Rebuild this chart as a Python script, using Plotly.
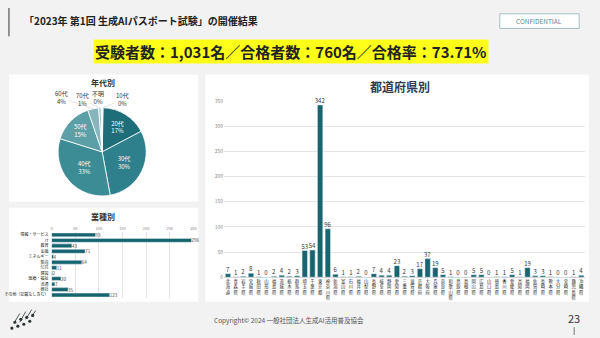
import math
import plotly.graph_objects as go

FONT = "Noto Sans CJK JP"
W, H = 600, 338

# ---------------- data ----------------
age_labels = ["10代", "20代", "30代", "40代", "50代", "60代", "70代", "不明"]
age_values = [0.4, 17, 30, 33, 15, 4, 1, 0.3]
age_colors = ["#cfe4e6", "#1d6e78", "#2e818c", "#3c8c96", "#5c9fa7", "#86b6bb", "#a9cbce", "#c3dcde"]
age_inside = [False, True, True, True, True, False, False, False]

ind_labels = ["情報・サービス", "IT", "教育", "金融", "エネルギー", "製造", "公共", "建設",
              "医療・福祉", "流通", "商社", "その他（記載なし含む）"]
ind_values = [93, 296, 43, 71, 4, 64, 11, 2, 20, 7, 35, 123]
ind_ticks = [0, 50, 100, 150, 200, 250, 300]

prefs = ["北海道", "青森県", "岩手県", "宮城県", "秋田県", "山形県", "福島県", "茨城県", "栃木県", "群馬県",
         "埼玉県", "千葉県", "東京都", "神奈川県", "新潟県", "富山県", "石川県", "福井県", "山梨県", "長野県",
         "岐阜県", "静岡県", "愛知県", "三重県", "滋賀県", "京都府", "大阪府", "兵庫県", "奈良県", "和歌山県",
         "鳥取県", "島根県", "岡山県", "広島県", "山口県", "徳島県", "香川県", "愛媛県", "高知県", "福岡県",
         "佐賀県", "長崎県", "熊本県", "大分県", "宮崎県", "鹿児島県", "沖縄県"]
pref_values = [7, 1, 2, 8, 1, 0, 2, 4, 2, 3,
               53, 54, 342, 96, 6, 1, 1, 2, 0, 7,
               4, 4, 23, 2, 3, 17, 37, 19, 5, 1,
               0, 0, 5, 5, 0, 1, 1, 5, 1, 19,
               3, 3, 1, 0, 0, 1, 4]
pref_ticks = [0, 50, 100, 150, 200, 250, 300, 350]

title_text = "「2023年 第1回 生成AIパスポート試験」の開催結果"
summary_text = "受験者数：1,031名／合格者数：760名／合格率：73.71%"
footer_text = "Copyright© 2024 一般社団法人生成AI活用普及協会"
page_no = "23"

BAR = "#17656f"


def px(x):
    return x / W


def py(y):
    return 1 - y / H


fig = go.Figure()

# ---- pie ----
PIE_CX, PIE_CY, PIE_R = 102, 151, 45
fig.add_trace(go.Pie(
    labels=age_labels, values=age_values, sort=False, direction="clockwise", rotation=0,
    marker=dict(colors=age_colors, line=dict(color="white", width=0.8)),
    texttemplate="%{label}<br>%{percent:.0%}",
    textposition=["inside" if i else "none" for i in age_inside],
    insidetextorientation="horizontal",
    insidetextfont=dict(color="white", size=6, family=FONT),
    domain=dict(x=[px(PIE_CX - PIE_R), px(PIE_CX + PIE_R)], y=[py(PIE_CY + PIE_R), py(PIE_CY - PIE_R)]),
    showlegend=False, hoverinfo="label+percent",
))

# ---- industry bars ----
fig.add_trace(go.Bar(
    x=ind_values, y=ind_labels, orientation="h", marker_color=BAR, width=0.72,
    text=ind_values, textposition="outside", cliponaxis=False, constraintext="none",
    textfont=dict(size=4.5, color="#444444", family=FONT),
    xaxis="x2", yaxis="y2", showlegend=False,
))

# ---- prefecture bars ----
fig.add_trace(go.Bar(
    x=list(range(len(prefs))), y=pref_values, marker_color=BAR, width=0.7,
    text=pref_values, textposition="outside", cliponaxis=False, constraintext="none",
    textfont=dict(size=6, color="#333333", family=FONT),
    xaxis="x3", yaxis="y3", showlegend=False,
))

shapes = [
    dict(type="rect", xref="paper", yref="paper", x0=px(8), x1=px(199), y0=py(202), y1=py(72),
         fillcolor="white", line=dict(width=0), layer="below"),
    dict(type="rect", xref="paper", yref="paper", x0=px(8), x1=px(199), y0=py(304), y1=py(208),
         fillcolor="white", line=dict(width=0), layer="below"),
    dict(type="rect", xref="paper", yref="paper", x0=px(206), x1=px(593), y0=py(304), y1=py(72),
         fillcolor="white", line=dict(width=0), layer="below"),
    dict(type="line", xref="paper", yref="paper", x0=px(8), x1=px(8), y0=py(4), y1=py(33),
         line=dict(color="#555555", width=1.2)),
    dict(type="rect", xref="paper", yref="paper", x0=px(503), x1=px(583), y0=py(25), y1=py(10),
         fillcolor="white", line=dict(color="#8fb1b5", width=0.8)),
    dict(type="line", xref="paper", yref="paper", x0=px(578), x1=px(578), y0=py(338), y1=py(330),
         line=dict(color="#555555", width=0.8)),
]
logo_dots = [(11, 331), (17, 329), (23, 327), (29, 324), (14, 325), (20, 322), (26, 320), (32, 318)]
for (cx, cy) in logo_dots:
    r = 1.6
    shapes.append(dict(type="circle", xref="paper", yref="paper", x0=px(cx - r), x1=px(cx + r),
                       y0=py(cy + r), y1=py(cy - r), fillcolor="#2d3436", line=dict(width=0)))
for (x0, y0, x1, y1) in [(13, 326, 19, 316), (19, 325, 25, 314), (25, 322, 31, 312), (31, 319, 35, 313)]:
    shapes.append(dict(type="line", xref="paper", yref="paper", x0=px(x0), x1=px(x1), y0=py(y0), y1=py(y1),
                       line=dict(color="#2d3436", width=0.8)))

annotations = [
    dict(text=f"<b>{title_text}</b>", x=px(21), y=py(17), xref="paper", yref="paper",
         xanchor="left", yanchor="middle", showarrow=False, font=dict(size=10, color="#222222", family=FONT)),
    dict(text="CONFIDENTIAL", x=px(543), y=py(17.5), xref="paper", yref="paper",
         xanchor="center", yanchor="middle", showarrow=False, font=dict(size=6.5, color="#4f8a92", family=FONT)),
    dict(text=f"<b>{summary_text}</b>", x=px(292), y=py(49), xref="paper", yref="paper",
         xanchor="center", yanchor="middle", showarrow=False, bgcolor="#ffff1a", borderpad=1,
         font=dict(size=15, color="#222222", family=FONT)),
    dict(text="<b>年代別</b>", x=px(103), y=py(80), xref="paper", yref="paper",
         xanchor="center", yanchor="middle", showarrow=False, font=dict(size=8, color="#333333", family=FONT)),
    dict(text="<b>業種別</b>", x=px(103), y=py(217), xref="paper", yref="paper",
         xanchor="center", yanchor="middle", showarrow=False, font=dict(size=8, color="#333333", family=FONT)),
    dict(text="<b>都道府県別</b>", x=px(402), y=py(84), xref="paper", yref="paper",
         xanchor="center", yanchor="middle", showarrow=False, font=dict(size=12, color="#2c3e50", family=FONT)),
    dict(text=footer_text, x=px(290), y=py(323), xref="paper", yref="paper",
         xanchor="center", yanchor="middle", showarrow=False, font=dict(size=6.5, color="#555555", family=FONT)),
    dict(text=page_no, x=px(578), y=py(321), xref="paper", yref="paper",
         xanchor="center", yanchor="middle", showarrow=False, font=dict(size=11, color="#333333", family=FONT)),
]

# outside pie labels with leader lines (computed from the data)
label_pos = {"60代": (61, 96), "70代": (82, 98), "不明": (98, 96), "10代": (122, 98)}
total = sum(age_values)
cum = 0.0
for lab, val, inside in zip(age_labels, age_values, age_inside):
    mid = (cum + val / 2) / total * 2 * math.pi
    cum += val
    if inside:
        continue
    ex = PIE_CX + PIE_R * math.sin(mid)
    ey = PIE_CY - PIE_R * math.cos(mid)
    lx, ly = label_pos[lab]
    annotations.append(dict(
        text=f"{lab}<br>{round(val / total * 100)}%", x=px(ex), y=py(ey), xref="paper", yref="paper",
        ax=lx - ex, ay=ly - ey, showarrow=True, arrowhead=0, arrowwidth=0.5, arrowcolor="#c8c8c8",
        standoff=0, font=dict(size=6, color="#333333", family=FONT), align="center",
    ))

fig.update_layout(
    width=W, height=H, margin=dict(l=0, r=0, t=0, b=0),
    paper_bgcolor="#f2f2f2", plot_bgcolor="rgba(0,0,0,0)",
    font=dict(family=FONT),
    shapes=shapes, annotations=annotations, bargap=0.3,
    xaxis2=dict(domain=[px(51), px(194)], range=[0, 300], side="top", anchor="y2",
                tickvals=ind_ticks, tickfont=dict(size=4, color="#888888"),
                showgrid=True, gridcolor="#e4e4e4", gridwidth=0.6, zeroline=False, showline=False, ticks=""),
    yaxis2=dict(domain=[py(300), py(233)], anchor="x2", autorange="reversed",
                tickfont=dict(size=4, color="#222222"), ticks="", showgrid=False, showline=False,
                ticklabelstandoff=2),
    xaxis3=dict(domain=[px(225), px(589)], range=[-0.5, len(prefs) - 0.5], anchor="y3",
                tickvals=list(range(len(prefs))), ticktext=["<br>".join(p) for p in prefs],
                tickfont=dict(size=4.3, color="#222222"), ticks="", showgrid=False, showline=False,
                zeroline=False, tickangle=0),
    yaxis3=dict(domain=[py(279), py(99)], range=[0, 350], anchor="x3",
                tickvals=pref_ticks, tickfont=dict(size=5, color="#888888"), ticks="",
                showgrid=True, gridcolor="#e4e4e4", gridwidth=0.8, zeroline=True, zerolinecolor="#d8d8d8",
                zerolinewidth=0.8, showline=False),
)

fig.write_html("out.html")
